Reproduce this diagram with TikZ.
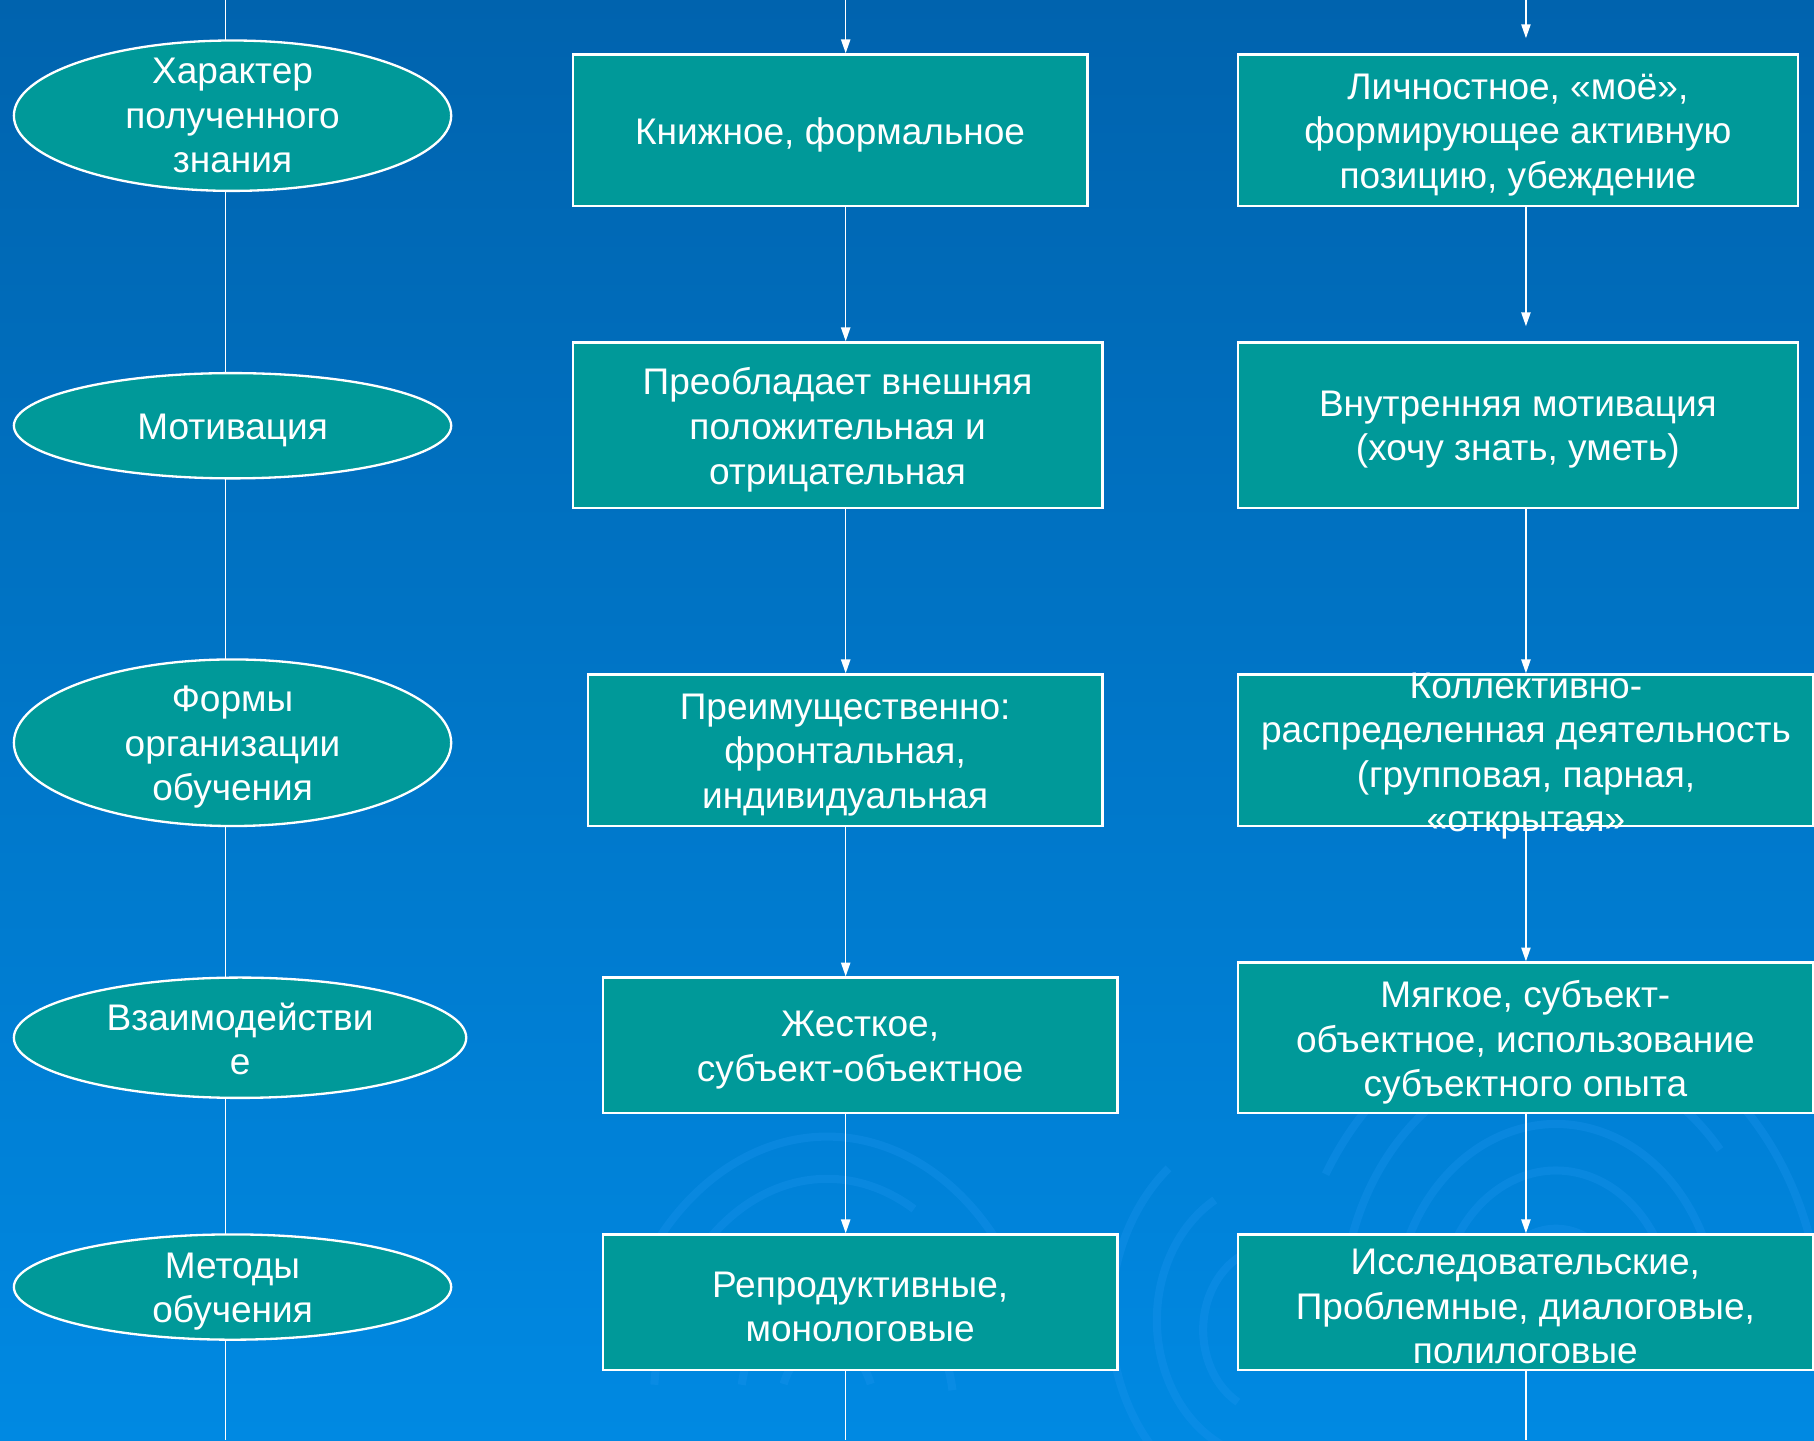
\documentclass[tikz,border=0pt]{standalone}
\usepackage{fontspec}
\setmainfont{Liberation Sans}
\usetikzlibrary{shapes.geometric,arrows.meta}
\definecolor{bgtop}{RGB}{0,99,174}
\definecolor{bgbot}{RGB}{0,137,226}
\definecolor{tealfill}{RGB}{0,153,153}
\definecolor{ripplec}{RGB}{30,150,240}
\begin{document}
\begin{tikzpicture}[x=1pt,y=-1pt,
  txt/.style={text=white, align=center, inner sep=0pt, yshift=-4pt, font=\fontsize{32}{38.5}\selectfont},
  boxn/.style={draw=white, line width=2pt, fill=tealfill, rectangle, inner sep=0pt},
  oval/.style={ellipse, draw=white, line width=2pt, fill=tealfill, inner sep=0pt},
  conn/.style={draw=white, line width=1.3pt},
  arr/.style={conn, -{Triangle[length=12pt,width=8pt]}},
  rip/.style={draw=ripplec, opacity=0.3, line width=7pt}
]
\useasboundingbox (0,0) rectangle (1568,1245);
\shade[top color=bgtop, bottom color=bgbot] (0,0) rectangle (1568,1245);
% faint ripples
\begin{scope}
\clip (0,0) rectangle (1568,1245);
\foreach \r/\a/\b in {40/200/340, 75/190/330, 110/210/350, 150/185/300, 190/200/320}{
  \draw[rip] (715,1210) ++(\a:\r) arc[start angle=\a, end angle=\b, x radius=\r, y radius=1.3*\r];
}
\foreach \r/\a/\b in {60/200/340, 100/185/330, 140/200/355, 185/190/320, 230/210/345}{
  \draw[rip] (1345,1130) ++(\a:\r) arc[start angle=\a, end angle=\b, x radius=\r, y radius=1.2*\r];
}
\foreach \r/\a/\b in {60/120/250, 100/110/240, 140/130/230}{
  \draw[rip] (1100,1160) ++(\a:\r) arc[start angle=\a, end angle=\b, x radius=\r, y radius=1.2*\r];
}
\end{scope}
% column end coordinates
\coordinate (lt) at (195,0);
\coordinate (lb) at (195,1245);
\coordinate (mt) at (731,0);
\coordinate (mb) at (731,1245);
\coordinate (rt) at (1319,0);
\coordinate (rb) at (1319,1245);
\draw[conn] (lt) -- (lb);
% left ellipses
\node[oval, minimum width=378pt, minimum height=130pt] (e1) at (201,100) {};
\node[txt, yshift=4pt] (e1t) at (e1.center) {Характер\\полученного\\знания};
\node[oval, minimum width=378pt, minimum height=91pt] (e2) at (201,368) {};
\node[txt] (e2t) at (e2.center) {Мотивация};
\node[oval, minimum width=378pt, minimum height=144pt] (e3) at (201,642) {};
\node[txt] (e3t) at (e3.center) {Формы\\организации\\обучения};
\node[oval, minimum width=391pt, minimum height=104pt] (e4) at (207.5,897) {};
\node[txt, yshift=3pt] (e4t) at (e4.center) {Взаимодействи\\е};
\node[oval, minimum width=378pt, minimum height=91pt] (e5) at (201,1112.5) {};
\node[txt] (e5t) at (e5.center) {Методы\\обучения};
% middle boxes
\node[boxn, minimum width=445pt, minimum height=131pt] (m1) at (717.5,112.5) {};
\node[txt] (m1t) at (m1.center) {Книжное, формальное};
\node[boxn, minimum width=458pt, minimum height=143pt] (m2) at (724,367.5) {};
\node[txt] (m2t) at (m2.center) {Преобладает внешняя\\положительная и\\отрицательная};
\node[boxn, minimum width=445pt, minimum height=131pt] (m3) at (730.5,648.5) {};
\node[txt] (m3t) at (m3.center) {Преимущественно:\\фронтальная,\\индивидуальная};
\node[boxn, minimum width=445pt, minimum height=117pt] (m4) at (743.5,903.5) {};
\node[txt] (m4t) at (m4.center) {Жесткое,\\субъект-объектное};
\node[boxn, minimum width=445pt, minimum height=117pt] (m5) at (743.5,1125.5) {};
\node[txt] (m5t) at (m5.center) {Репродуктивные,\\монологовые};
% right boxes
\node[boxn, minimum width=484pt, minimum height=131pt] (r1) at (1312,112.5) {};
\node[txt] (r1t) at (r1.center) {Личностное, «моё»,\\формирующее активную\\позицию, убеждение};
\node[boxn, minimum width=484pt, minimum height=143pt] (r2) at (1312,367.5) {};
\node[txt] (r2t) at (r2.center) {Внутренняя мотивация\\(хочу знать, уметь)};
\node[boxn, minimum width=497pt, minimum height=131pt] (r3) at (1318.5,648.5) {};
\node[boxn, minimum width=497pt, minimum height=130pt] (r4) at (1318.5,897) {};
\node[txt] (r4t) at (r4.center) {Мягкое, субъект-\\объектное, использование\\субъектного опыта};
\node[boxn, minimum width=497pt, minimum height=117pt] (r5) at (1318.5,1125.5) {};
\node[txt] (r5t) at (r5.center) {Исследовательские,\\Проблемные, диалоговые,\\полилоговые};
% middle connectors
\draw[arr] (mt) -- (m1.north -| mt);
\draw[arr] (m1.south -| mt) -- (m2.north -| mt);
\draw[arr] (m2.south -| mt) -- (m3.north -| mt);
\draw[arr] (m3.south -| mt) -- (m4.north -| mt);
\draw[arr] (m4.south -| mt) -- (m5.north -| mt);
\draw[conn] (m5.south -| mt) -- (mb);
% right connectors
\draw[arr, shorten >=13pt] (rt) -- (r1.north -| rt);
\draw[arr, shorten >=13pt] (r1.south -| rt) -- (r2.north -| rt);
\draw[arr] (r2.south -| rt) -- (r3.north -| rt);
\draw[arr] (r3.south -| rt) -- (r4.north -| rt);
\draw[arr] (r4.south -| rt) -- (r5.north -| rt);
\draw[conn] (r5.south -| rt) -- (rb);
% overflowing text of r3 (drawn on top, as in the reference)
\node[txt] (r3t) at (1319,649.5) {Коллективно-\\распределенная деятельность\\(групповая, парная,\\«открытая»};
\end{tikzpicture}
\end{document}
